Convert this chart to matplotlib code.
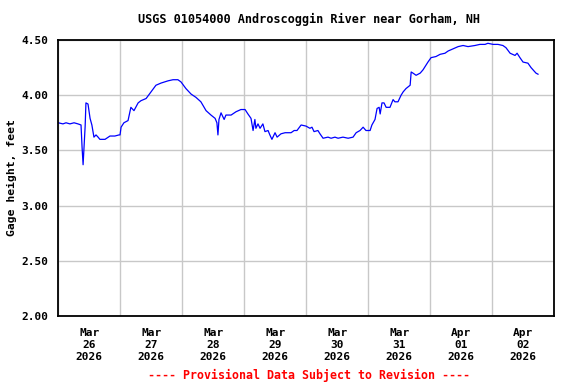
import pandas as pd
import matplotlib
matplotlib.use("Agg")
import matplotlib.pyplot as plt
import matplotlib.dates as mdates

# hours after 2026-03-26 00:00 and gage height (ft)
hours = [0, 1.8, 3.0, 4.5, 6.1, 7.6, 8.8, 9.2, 9.6, 10.0, 10.4, 10.7, 11.5, 12.3,
         13.0, 13.8, 14.6, 15.4, 16.1, 18.1, 20.0, 21.9, 23.5, 23.9, 24.3, 25.4,
         27.0, 28.1, 29.3, 30.9, 32.0, 34.0, 35.9, 37.8, 39.8, 42.5, 44.4, 46.3,
         47.5, 49.4, 51.4, 53.3, 55.2, 57.2, 59.1, 60.7, 61.4, 61.8, 62.2, 63.0,
         64.2, 64.9, 66.9, 68.8, 70.7, 72.3, 73.4, 74.6, 75.4, 76.1, 76.5, 77.3,
         78.1, 79.2, 80.0, 81.2, 81.9, 82.7, 83.9, 84.7, 86.2, 87.8, 90.1, 91.3,
         92.4, 94.0, 95.9, 97.4, 98.2, 99.0, 100.5, 101.3, 102.5, 104.4, 105.6,
         107.1, 108.3, 110.2, 112.2, 114.1, 115.3, 116.8, 118.0, 119.1, 120.7,
         121.4, 122.6, 123.4, 124.2, 124.6, 125.3, 126.1, 126.9, 128.4, 129.6,
         130.3, 131.5, 132.7, 133.5, 134.6, 136.2, 136.6, 137.3, 138.5, 140.1,
         141.2, 142.0, 143.1, 144.3, 146.2, 147.8, 149.7, 150.9, 152.8, 154.8,
         156.7, 158.6, 161.3, 163.2, 165.2, 166.3, 168.3, 170.2, 172.1, 173.3,
         174.9, 176.8, 177.6, 178.7, 179.9, 181.8, 183.0, 184.9, 185.7]
gage = [3.75, 3.74, 3.75, 3.74, 3.75, 3.74, 3.73, 3.53, 3.37, 3.55, 3.72, 3.93,
        3.92, 3.79, 3.73, 3.62, 3.64, 3.62, 3.60, 3.60, 3.63, 3.63, 3.64, 3.64,
        3.71, 3.75, 3.77, 3.89, 3.86, 3.93, 3.95, 3.97, 4.03, 4.09, 4.11, 4.13,
        4.14, 4.14, 4.12, 4.06, 4.01, 3.98, 3.94, 3.86, 3.82, 3.79, 3.75, 3.64,
        3.78, 3.84, 3.78, 3.82, 3.82, 3.85, 3.87, 3.87, 3.83, 3.79, 3.68, 3.78,
        3.70, 3.74, 3.70, 3.74, 3.67, 3.68, 3.64, 3.60, 3.66, 3.62, 3.65, 3.66,
        3.66, 3.68, 3.68, 3.73, 3.72, 3.70, 3.71, 3.67, 3.68, 3.65, 3.61, 3.62,
        3.61, 3.62, 3.61, 3.62, 3.61, 3.62, 3.66, 3.68, 3.71, 3.68, 3.68, 3.73,
        3.78, 3.88, 3.89, 3.83, 3.93, 3.93, 3.89, 3.89, 3.96, 3.94, 3.94, 4.00,
        4.03, 4.06, 4.09, 4.21, 4.20, 4.18, 4.20, 4.23, 4.26, 4.30, 4.34, 4.35,
        4.37, 4.38, 4.40, 4.42, 4.44, 4.45, 4.44, 4.45, 4.46, 4.46, 4.47, 4.46,
        4.46, 4.45, 4.43, 4.38, 4.36, 4.38, 4.34, 4.30, 4.29, 4.25, 4.20, 4.19]

start = pd.Timestamp("2026-03-26")
end = pd.Timestamp("2026-04-03")
times = start + pd.to_timedelta(hours, unit="h")

mono = "DejaVu Sans Mono"

fig = plt.figure(figsize=(5.76, 3.84), dpi=100)
ax = fig.add_axes([0.1012, 0.1771, 0.8611, 0.7188])

ax.plot(times, gage, color="blue", linewidth=0.9)

ax.set_xlim(start, end)
ax.set_ylim(2.0, 4.5)
ax.set_yticks([2.0, 2.5, 3.0, 3.5, 4.0, 4.5])
ax.set_yticklabels(["%.2f" % v for v in [2.0, 2.5, 3.0, 3.5, 4.0, 4.5]],
                   family=mono, fontweight="bold", fontsize=8)

ax.xaxis.set_major_locator(mdates.DayLocator())
ax.xaxis.set_major_formatter(plt.NullFormatter())
ax.xaxis.set_minor_locator(mdates.HourLocator(byhour=12))
ax.xaxis.set_minor_formatter(mdates.DateFormatter("%b\n%d\n%Y"))
for lab in ax.get_xticklabels(minor=True):
    lab.set_family(mono)
    lab.set_fontweight("bold")
    lab.set_fontsize(8)
ax.tick_params(axis="x", which="both", length=0, pad=9)
ax.tick_params(axis="y", length=0, pad=7)

ax.grid(True, which="major", color="#c8c8c8", linewidth=1)
ax.set_axisbelow(True)
for s in ax.spines.values():
    s.set_linewidth(1.3)

ax.set_ylabel("Gage height, feet", family=mono, fontweight="bold", fontsize=8.2)
ax.yaxis.set_label_coords(-0.083, 0.5)
fig.text(0.537, 0.95, "USGS 01054000 Androscoggin River near Gorham, NH",
         ha="center", va="center", family=mono, fontweight="bold", fontsize=8.6)
fig.text(0.537, 0.023, "---- Provisional Data Subject to Revision ----",
         ha="center", va="center", family=mono, fontweight="bold", fontsize=8.4,
         color="red")

fig.savefig("out.png", dpi=100)
